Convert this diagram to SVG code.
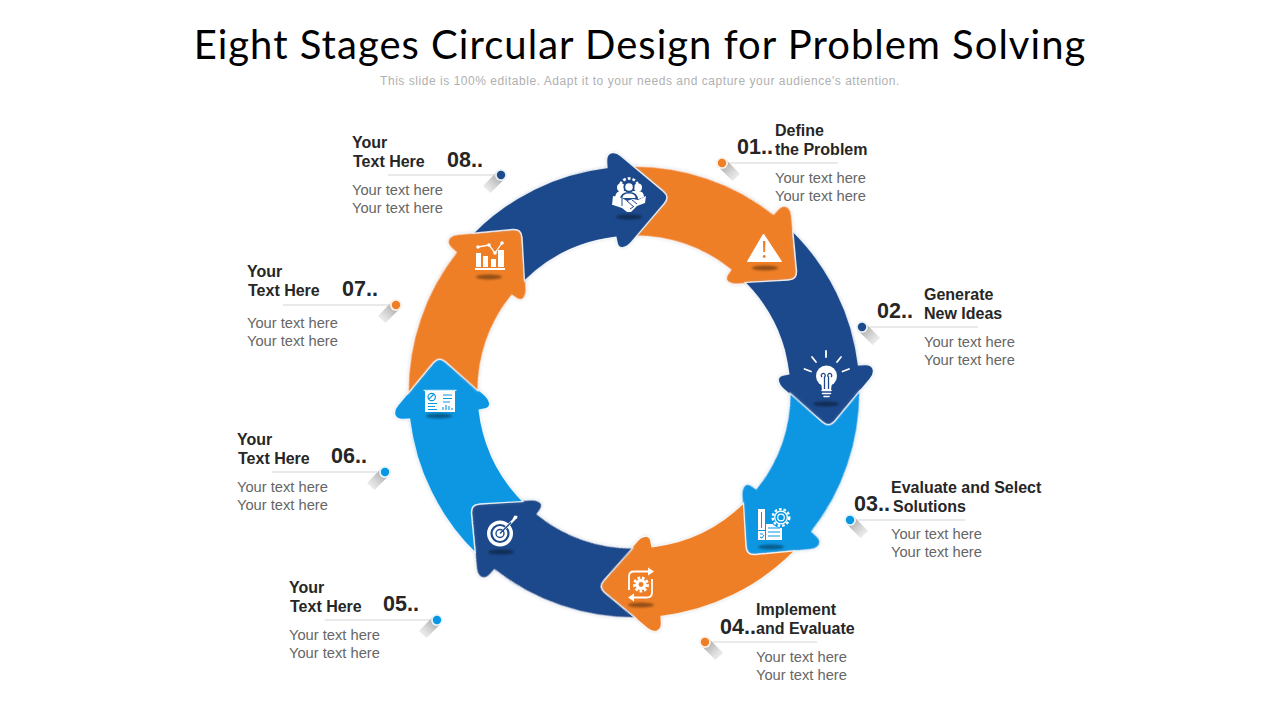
<svg xmlns="http://www.w3.org/2000/svg" xmlns:xlink="http://www.w3.org/1999/xlink" width="1280" height="720" viewBox="0 0 1280 720">
<style>
text{font-family:"Liberation Sans",Arial,sans-serif}
.h{font-family:Lato,"Liberation Sans",sans-serif;font-size:40px;fill:#000;letter-spacing:1.020px;text-anchor:middle}
.s{font-size:12px;fill:#b0b0b0;letter-spacing:.54px;text-anchor:middle}
.t{font-size:16px;font-weight:700;fill:#262626}
.n{font-size:21.500px;font-weight:700;fill:#262626}
.b{font-size:14.700px;fill:#666}
.r{stroke:#d4d4d4;stroke-width:1}
.ar{stroke:#fff;stroke-opacity:.8;stroke-width:1.300;filter:url(#glow)}
.or{fill:#EF7F27}.na{fill:#1D4A8B}.bl{fill:#0897E3}
.sd{fill:#000;opacity:.38;filter:url(#soft)}
.w{fill:#fff}
.wl{fill:none;stroke:#fff;stroke-linecap:round}
</style>
<defs>
<filter id="glow" x="-10%" y="-10%" width="120%" height="120%"><feDropShadow dx="0" dy="0" stdDeviation="1.600" flood-color="#9fb0c8" flood-opacity=".45"/></filter>
<filter id="soft" x="-30%" y="-100%" width="160%" height="300%"><feGaussianBlur stdDeviation="1.100"/></filter>
<linearGradient id="pr" x1="0" y1="0" x2="1" y2="1"><stop offset="0" stop-color="#858585"/><stop offset="1" stop-color="#e6e6e6" stop-opacity=".4"/></linearGradient>
<linearGradient id="pl" x1="1" y1="0" x2="0" y2="1"><stop offset="0" stop-color="#858585"/><stop offset="1" stop-color="#e6e6e6" stop-opacity=".4"/></linearGradient>
<path id="arrow" d="M-160.800 -158.800A226 226 0 0 1 -27 -224.400L-27.300 -230C-28 -240 -20 -242 -13 -236L29.100 -200.800Q36 -195 30 -188.300L-2 -150.500C-8 -143 -16 -142 -17 -150L-18 -154.900A156 156 0 0 0 -109.500 -111.100L-111.900 -154.400Q-112.400 -163.300 -121.400 -162.600Z"/>
<path id="pinR" d="M-4 3.500L3.500 -4L18 11L10.500 18Z" fill="url(#pr)"/>
<path id="pinL" d="M4 3.500L-3.500 -4L-18 11L-10.500 18Z" fill="url(#pl)"/>
</defs>
<rect width="1280" height="720" fill="#fff"/>
<text class="h" x="640" y="59">Eight Stages Circular Design for Problem Solving</text>
<text class="s" x="640" y="85">This slide is 100% editable. Adapt it to your needs and capture your audience's attention.</text>

<g id="stage-1">
<use href="#arrow" class="ar or" transform="translate(634 392) rotate(45)"/>
<ellipse class="sd" cx="765" cy="268" rx="13" ry="2.400"/>
<path class="w" stroke="#fff" stroke-linejoin="round" d="M763.500 234L781.500 261.500H747.500Z"/>
<path class="or" d="M763 241h2.400l-.3 11h-1.800z"/><circle class="or" cx="764.200" cy="256.500" r="1.400"/>
<use href="#pinR" x="722" y="163"/><circle cx="722" cy="163" r="6" fill="#fdf0e6"/><circle class="or" cx="722" cy="163" r="4.200"/>
<line class="r" x1="730" y1="163" x2="838" y2="163"/>
<text class="t" x="775" y="136">Define</text><text class="t" x="775" y="155">the Problem</text>
<text class="n" x="737" y="154">01..</text>
<text class="b" x="775" y="183">Your text here</text><text class="b" x="775" y="201">Your text here</text>
</g>

<g id="stage-2">
<use href="#arrow" class="ar na" transform="translate(634 392) rotate(90)"/>
<ellipse class="sd" cx="826" cy="404" rx="13" ry="2.400"/>
<circle class="w" cx="826.500" cy="376" r="10.500"/><path class="w" d="M821 382h11l-1 8h-9z"/>
<path class="wl" stroke-width="1.600" d="M822 390.500h9M822.500 393.500h8M824 396.500h5"/>
<path fill="none" stroke="#1D4A8B" stroke-width="1.300" d="M824.500 389V377a2 2 0 1 0-2.500 0M828.500 389V377a2 2 0 1 1 2.500 0"/>
<path class="wl" stroke-width="1.800" d="M826 351v6M812 357l4 5M841 357l-4 5M804.500 369l6.500 2.500M849 369l-6.500 2.500"/>
<use href="#pinR" x="862" y="327"/><circle cx="862" cy="327" r="6" fill="#e9eef5"/><circle class="na" cx="862" cy="327" r="4.200"/>
<line class="r" x1="870" y1="327" x2="978" y2="327"/>
<text class="t" x="924" y="300">Generate</text><text class="t" x="924" y="319">New Ideas</text>
<text class="n" x="877" y="318">02..</text>
<text class="b" x="924" y="347">Your text here</text><text class="b" x="924" y="365">Your text here</text>
</g>

<g id="stage-3">
<use href="#arrow" class="ar bl" transform="translate(634 392) rotate(135)"/>
<ellipse class="sd" cx="771" cy="547" rx="13" ry="2.400"/>
<path class="w" d="M758 509h7v21h-7zM758 531h7v9h-7zM766 524h16v16h-16z"/>
<path fill="none" stroke="#0897E3" stroke-width="1" d="M761.500 512v16M760 534h3M760 537l2 1 2-3M768 528h12M768 532h12M768 536h12"/>
<circle fill="#0897E3" cx="781" cy="517.500" r="10.500"/>
<circle fill="none" stroke="#fff" stroke-width="2.400" stroke-dasharray="2.600 2" cx="781" cy="517.500" r="8.300"/>
<circle fill="none" stroke="#fff" stroke-width="1.300" cx="781" cy="517.500" r="6.300"/><circle fill="none" stroke="#fff" stroke-width="1.200" cx="781" cy="517.500" r="3.300"/>
<use href="#pinR" x="850" y="520"/><circle cx="850" cy="520" r="6" fill="#e6f4fc"/><circle class="bl" cx="850" cy="520" r="4.200"/>
<line class="r" x1="858" y1="520" x2="965" y2="520"/>
<text class="t" x="891" y="493">Evaluate and Select</text><text class="t" x="893" y="512">Solutions</text>
<text class="n" x="854" y="511">03..</text>
<text class="b" x="891" y="539">Your text here</text><text class="b" x="891" y="557">Your text here</text>
</g>

<g id="stage-4">
<use href="#arrow" class="ar or" transform="translate(634 392) rotate(180)"/>
<ellipse class="sd" cx="641" cy="605" rx="13" ry="2.400"/>
<path fill="none" stroke="#fff" stroke-width="1.800" d="M648 571.500H634q-5 0-5 5V590M634 597.500H647q5 0 5-5V579"/>
<path class="w" d="M648 567.500l6 4-6 4zM634 593.500l-6 4 6 4z"/>
<circle fill="none" stroke="#fff" stroke-width="3" stroke-dasharray="2.600 1.800" cx="641" cy="584.500" r="6.500"/><circle class="w" cx="641" cy="584.500" r="5.500"/><circle class="or" cx="641" cy="584.500" r="2.400"/>
<use href="#pinR" x="705" y="642"/><circle cx="705" cy="642" r="6" fill="#fdf0e6"/><circle class="or" cx="705" cy="642" r="4.200"/>
<line class="r" x1="713" y1="642" x2="817" y2="642"/>
<text class="t" x="756" y="615">Implement</text><text class="t" x="756" y="634">and Evaluate</text>
<text class="n" x="720" y="634">04..</text>
<text class="b" x="756" y="662">Your text here</text><text class="b" x="756" y="680">Your text here</text>
</g>

<g id="stage-5">
<use href="#arrow" class="ar na" transform="translate(634 392) rotate(225)"/>
<ellipse class="sd" cx="501" cy="552" rx="13" ry="2.400"/>
<circle class="w" cx="500" cy="533.500" r="13"/>
<circle fill="none" stroke="#1D4A8B" stroke-width="2.200" cx="500" cy="533.500" r="8.500"/>
<circle fill="none" stroke="#1D4A8B" stroke-width="1.400" cx="500" cy="533.500" r="4"/>
<path fill="none" stroke="#fff" stroke-width="2.400" d="M504 529.500L514 519.500"/><path fill="none" stroke="#1D4A8B" stroke-width="1.400" d="M500 533.500L511 522.500"/>
<path class="w" d="M512.500 519l2-3.500 3 .5-.5 2.500-3 2z"/>
<use href="#pinL" x="437" y="620"/><circle cx="437" cy="620" r="6" fill="#e6f4fc"/><circle class="bl" cx="437" cy="620" r="4.200"/>
<line class="r" x1="325" y1="620" x2="430" y2="620"/>
<text class="t" x="289" y="593">Your</text><text class="t" x="290" y="612">Text Here</text>
<text class="n" x="383" y="611">05..</text>
<text class="b" x="289" y="640">Your text here</text><text class="b" x="289" y="658">Your text here</text>
</g>

<g id="stage-6">
<use href="#arrow" class="ar bl" transform="translate(634 392) rotate(270)"/>
<ellipse class="sd" cx="439" cy="416" rx="13" ry="2.400"/>
<rect class="w" x="425" y="391" width="30" height="21"/><path class="wl" stroke-width="1" d="M424 390.300h32"/>
<circle fill="none" stroke="#0897E3" stroke-width="1.200" cx="431.700" cy="397" r="3.700"/>
<path fill="none" stroke="#0897E3" stroke-width="1.100" d="M429 399l5-5M443 395h9M443 398.500h9M443 402h7M428 403.500h9M428 406.500h7M428 409.500h9M443 410v-3M446 410v-5M449 410v-4M452 410v-2"/>
<use href="#pinL" x="385" y="472"/><circle cx="385" cy="472" r="6" fill="#e6f4fc"/><circle class="bl" cx="385" cy="472" r="4.200"/>
<line class="r" x1="272" y1="472" x2="378" y2="472"/>
<text class="t" x="237" y="445">Your</text><text class="t" x="238" y="464">Text Here</text>
<text class="n" x="331" y="463">06..</text>
<text class="b" x="237" y="492">Your text here</text><text class="b" x="237" y="510">Your text here</text>
</g>

<g id="stage-7">
<use href="#arrow" class="ar or" transform="translate(634 392) rotate(315)"/>
<ellipse class="sd" cx="489" cy="277" rx="13" ry="2.400"/>
<path class="w" d="M476 267V253h5v14zM483 267V256h5v11zM491 267v-8h5v8zM498 267V250h6v17zM475 268h30v2h-30z"/>
<path fill="none" stroke="#fff" stroke-width="1.300" d="M478 247L489 245L495 253L502 243"/>
<g class="w"><circle cx="478" cy="247" r="1.800"/><circle cx="489" cy="245" r="1.800"/><circle cx="495" cy="253" r="1.800"/><circle cx="502" cy="243" r="1.800"/></g>
<use href="#pinL" x="396" y="305"/><circle cx="396" cy="305" r="6" fill="#fdf0e6"/><circle class="or" cx="396" cy="305" r="4.200"/>
<line class="r" x1="283" y1="305" x2="390" y2="305"/>
<text class="t" x="247" y="277">Your</text><text class="t" x="248" y="296">Text Here</text>
<text class="n" x="342" y="296">07..</text>
<text class="b" x="247" y="328">Your text here</text><text class="b" x="247" y="346">Your text here</text>
</g>

<g id="stage-8">
<use href="#arrow" class="ar na" transform="translate(634 392)"/>
<ellipse class="sd" cx="629" cy="217" rx="13" ry="2.400"/>
<circle fill="none" stroke="#fff" stroke-width="2.600" stroke-dasharray="2.800 2" cx="629" cy="188" r="9.500"/>
<g class="w"><circle cx="621" cy="187.500" r="4"/><circle cx="638" cy="187.500" r="4"/><path d="M615 197q1-6 6-6h17q6 0 6 6l-8 3h-14z"/></g>
<circle fill="#1D4A8B" cx="629" cy="187" r="5.600"/><circle class="w" cx="629" cy="187" r="3.800"/>
<path fill="#1D4A8B" d="M620 200q0-8 9-8t9 8z"/><path class="w" d="M622.500 198q0-4.500 6.500-4.500t6.500 4.500z"/>
<path class="w" d="M613 196l9 2 5 3 6-2 5 1 8-4-1 7-8 3-6 6-4 0-5-4-9-3-1 0z"/>
<path fill="none" stroke="#1D4A8B" stroke-width="1" d="M622 198v8M627 201l7 6M632 200l5 4M630 209l3-2"/>
<use href="#pinL" x="501" y="175"/><circle cx="501" cy="175" r="6" fill="#e9eef5"/><circle class="na" cx="501" cy="175" r="4.200"/>
<line class="r" x1="388" y1="175" x2="495" y2="175"/>
<text class="t" x="352" y="148">Your</text><text class="t" x="353" y="167">Text Here</text>
<text class="n" x="447" y="167">08..</text>
<text class="b" x="352" y="195">Your text here</text><text class="b" x="352" y="213">Your text here</text>
</g>
</svg>
